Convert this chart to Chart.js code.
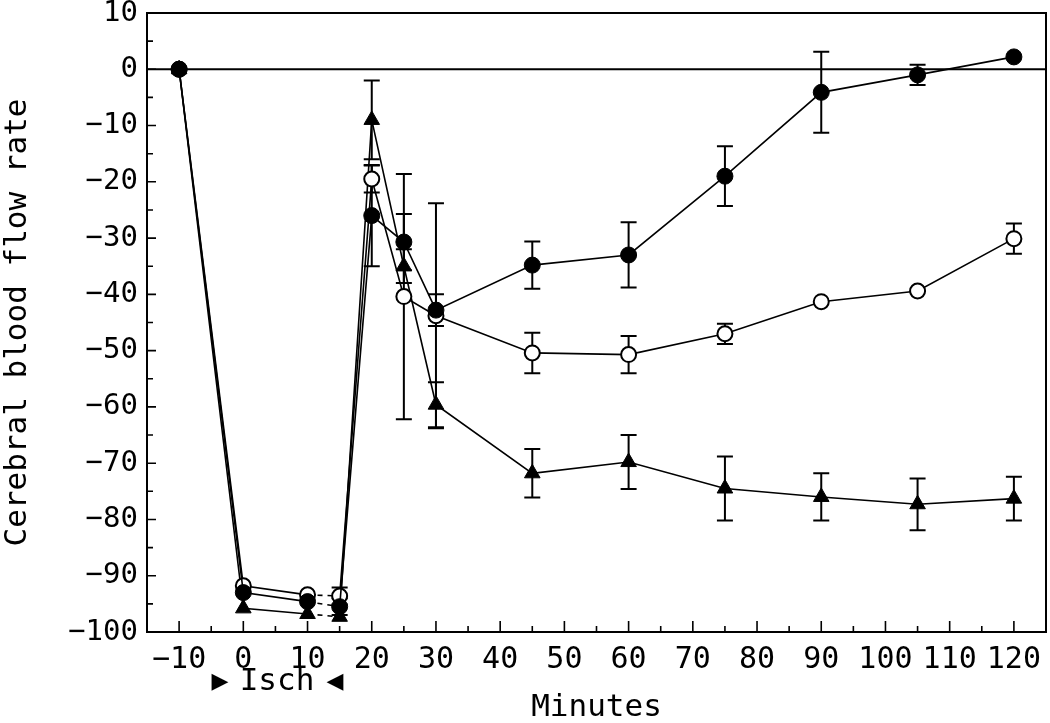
<!DOCTYPE html>
<html>
<head>
<meta charset="utf-8">
<script src="https://cdn.jsdelivr.net/npm/chart.js@4.4.1/dist/chart.umd.min.js"></script>
<style>
  html, body { margin: 0; padding: 0; background: #fff; }
</style>
</head>
<body>
<canvas id="flowChart" width="1050" height="723"></canvas>
<script>
// Sampling times (minutes) and tick labels
const minutes = [-10, 0, 10, 15, 20, 25, 30, 45, 60, 75, 90, 105, 120];
const xTicks = [-10, 0, 10, 20, 30, 40, 50, 60, 70, 80, 90, 100, 110, 120];
const yTicks = [-100, -90, -80, -70, -60, -50, -40, -30, -20, -10, 0, 10];

// Filled circles
const filledMean = [0, -93, -94.6, -95.5, -26, -30.7, -42.8, -34.8, -33, -19, -4.1, -1, 2.2];
const filledErr = [0, 0, 0, 1.5, 9, 5, 2.8, 4.2, 5.8, 5.3, 7.2, 1.8, 0];
// Open circles
const openMean = [0, -91.8, -93.4, -93.6, -19.5, -40.4, -43.8, -50.4, -50.7, -47, -41.3, -39.4, -30.1];
const openErr = [0, 0, 0, 1.5, 2.4, 21.8, 20, 3.6, 3.3, 1.8, 0, 0, 2.7];
// Filled triangles
const triMean = [0, -95.8, -96.8, -97.3, -9, -35, -59.6, -71.8, -69.8, -74.5, -76, -77.3, -76.3];
const triErr = [0, 0, 0, 0, 7, 3, 4, 4.3, 4.8, 5.7, 4.2, 4.6, 3.9];

const MONO = '"DejaVu Sans Mono", "Liberation Mono", monospace';

function toPoints(values) {
    return minutes.map((m, i) => ({ x: m, y: values[i] }));
}

function minusSign(v) {
    return String(v).replace('-', '\u2212');
}

const dashIsch = { borderDash: c => c.p0.parsed.x === 10 ? [5, 5] : undefined };

// Frame, zero line and inward ticks
const axisMarks = {
    id: 'axisMarks',
    beforeDatasetsDraw(chart) {
        const { ctx, chartArea: a, scales: { x, y } } = chart;
        ctx.save();
        ctx.strokeStyle = '#000';
        ctx.lineWidth = 2;
        ctx.strokeRect(a.left, a.top, a.right - a.left, a.bottom - a.top);

        const y0 = y.getPixelForValue(0);
        ctx.beginPath();
        ctx.moveTo(a.left, y0);
        ctx.lineTo(a.right, y0);
        ctx.stroke();

        ctx.lineWidth = 1.6;
        ctx.beginPath();
        for (let v = -100; v <= 10; v += 5) {
            const py = y.getPixelForValue(v);
            const len = v % 10 === 0 ? 9 : 6;
            ctx.moveTo(a.left, py);
            ctx.lineTo(a.left + len, py);
        }
        for (let v = -15; v <= 125; v += 5) {
            const px = x.getPixelForValue(v);
            const len = v % 10 === 0 ? 11 : 6;
            ctx.moveTo(px, a.bottom);
            ctx.lineTo(px, a.bottom - len);
        }
        ctx.stroke();
        ctx.restore();
    }
};

// Error bars with caps
const errorBars = {
    id: 'errorBars',
    beforeDatasetsDraw(chart) {
        const { ctx, scales: { x, y } } = chart;
        ctx.save();
        ctx.strokeStyle = '#000';
        ctx.lineWidth = 2;
        chart.data.datasets.forEach(ds => {
            ds.errors.forEach((e, k) => {
                if (!e) return;
                const px = x.getPixelForValue(ds.data[k].x);
                const top = y.getPixelForValue(ds.data[k].y + e);
                const bot = y.getPixelForValue(ds.data[k].y - e);
                ctx.beginPath();
                ctx.moveTo(px, top);
                ctx.lineTo(px, bot);
                ctx.moveTo(px - 8, top);
                ctx.lineTo(px + 8, top);
                ctx.moveTo(px - 8, bot);
                ctx.lineTo(px + 8, bot);
                ctx.stroke();
            });
        });
        ctx.restore();
    }
};

// Ischaemia period label under the x axis
const ischLabel = {
    id: 'ischLabel',
    afterDraw(chart) {
        const { ctx } = chart;
        ctx.save();
        ctx.fillStyle = '#000';
        ctx.textBaseline = 'middle';
        ctx.textAlign = 'center';
        ctx.font = '22px "DejaVu Sans"';
        ctx.fillText('\u25B6', 220, 682);
        ctx.fillText('\u25C0', 335, 682);
        ctx.font = '31px ' + MONO;
        ctx.fillText('Isch', 277, 682);
        ctx.restore();
    }
};

const ctx = document.getElementById('flowChart');
new Chart(ctx, {
    type: 'line',
    data: {
        datasets: [
            {
                label: 'filled',
                data: toPoints(filledMean),
                errors: filledErr,
                borderColor: '#000',
                backgroundColor: '#000',
                borderWidth: 1.6,
                pointStyle: 'circle',
                pointRadius: 8,
                pointBorderWidth: 1,
                segment: dashIsch,
                order: 1
            },
            {
                label: 'open',
                data: toPoints(openMean),
                errors: openErr,
                borderColor: '#000',
                backgroundColor: '#fff',
                borderWidth: 1.6,
                pointStyle: 'circle',
                pointRadius: 7.5,
                pointBorderWidth: 2,
                segment: dashIsch,
                order: 2
            },
            {
                label: 'triangle',
                data: toPoints(triMean),
                errors: triErr,
                borderColor: '#000',
                backgroundColor: '#000',
                borderWidth: 1.6,
                pointStyle: 'triangle',
                pointRadius: 9,
                pointBorderWidth: 1,
                segment: dashIsch,
                order: 3
            }
        ]
    },
    options: {
        responsive: false,
        animation: false,
        layout: { autoPadding: false, padding: { top: 13, right: 4, left: 0, bottom: 0 } },
        plugins: {
            legend: { display: false },
            tooltip: { enabled: false }
        },
        scales: {
            x: {
                type: 'linear',
                min: -15,
                max: 125,
                afterBuildTicks: s => { s.ticks = xTicks.map(v => ({ value: v })); },
                afterFit: s => {
                    s.height = 91;
                    s.paddingLeft = 0;
                    s.paddingRight = 0;
                },
                grid: { display: false, drawTicks: false },
                border: { display: false },
                ticks: {
                    font: { family: MONO, size: 30 },
                    color: '#000',
                    padding: 10,
                    autoSkip: false,
                    maxRotation: 0,
                    callback: minusSign
                },
                title: {
                    display: true,
                    text: 'Minutes',
                    color: '#000',
                    font: { family: MONO, size: 31, lineHeight: 1 },
                    padding: { top: 0, bottom: 0 }
                }
            },
            y: {
                min: -100,
                max: 10,
                afterBuildTicks: s => { s.ticks = yTicks.map(v => ({ value: v })); },
                afterFit: s => {
                    s.width = 147;
                    s.paddingTop = 0;
                    s.paddingBottom = 0;
                },
                grid: { display: false, drawTicks: false },
                border: { display: false },
                ticks: {
                    font: { family: MONO, size: 29 },
                    color: '#000',
                    padding: 9,
                    callback: minusSign
                },
                title: {
                    display: true,
                    text: 'Cerebral blood flow rate',
                    color: '#000',
                    font: { family: MONO, size: 31, lineHeight: 1 },
                    padding: { top: 2, bottom: 0 }
                }
            }
        }
    },
    plugins: [axisMarks, errorBars, ischLabel]
});
</script>
</body>
</html>
